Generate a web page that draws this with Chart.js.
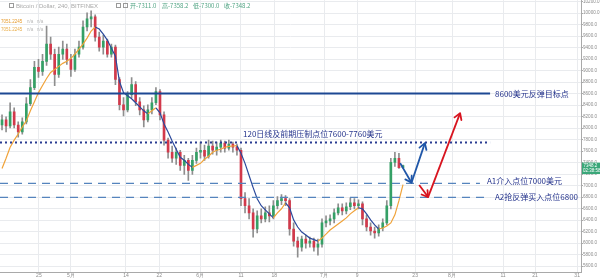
<!DOCTYPE html>
<html><head><meta charset="utf-8">
<script src="https://cdn.jsdelivr.net/npm/chart.js@4.4.1/dist/chart.umd.min.js"></script>
<style>html,body{margin:0;padding:0;background:#fff;overflow:hidden}canvas{display:block}</style>
</head><body>
<canvas id="c" width="600" height="278" style="width:600px;height:278px"></canvas>
<script>
// ---- data ----
const xTickIndex = [9.1, 17, 30.6, 38.8, 48.9, 59, 67.2, 79.5, 87.7, 102, 111.1, 123.7, 131.6, 142];
const xTickLabels = ['25','5月','14','22','6月','11','18','7月','9','23','8月','11','21','31'];
const yTickValues = [5600,5800,6000,6200,6400,6600,6800,7000,7200,7400,7600,7800,8000,8200,8400,8600,8800,9000,9200,9400,9600,9800,10000,10200];

const opens = [8055,8143,8037,8284,8055,7932,8108,8424,8705,9057,
  8987,9163,9461,9286,8934,9286,9374,9198,9022,9286,
  9409,9760,9901,9936,9584,9409,9514,9286,9409,8846,
  8407,8319,8582,8758,8459,8319,8143,8319,8442,8635,
  8231,7791,7580,7475,7580,7352,7440,7264,7440,7580,
  7615,7510,7686,7615,7668,7739,7651,7721,7668,7615,
  6772,6649,6526,6244,6473,6420,6526,6473,6649,6737,
  6772,6737,6244,6033,5928,6069,5998,6033,5928,5981,
  6350,6385,6420,6526,6614,6561,6631,6702,6649,6684,
  6420,6279,6209,6174,6262,6350,6649,7405,7475,7311];
const highs = [8231,8196,8442,8354,8108,8178,8530,8846,9163,9198,
  9286,9778,9584,9374,9409,9514,9461,9286,9374,9514,
  9866,10006,10042,9971,9672,9620,9549,9461,9444,8881,
  8530,8635,8881,8811,8530,8389,8407,8530,8705,8670,
  8284,7826,7686,7651,7615,7528,7475,7528,7651,7756,
  7703,7791,7774,7756,7791,7774,7791,7756,7721,7651,
  6877,6772,6596,6561,6596,6631,6649,6737,6807,6842,
  6824,6772,6350,6104,6121,6139,6104,6086,6069,6420,
  6473,6490,6596,6684,6684,6702,6789,6772,6754,6719,
  6490,6350,6279,6315,6420,6737,7475,7580,7563,7358.2];
const lows = [7967,7932,8002,8002,7844,7897,8073,8389,8670,8881,
  8916,9092,9198,8741,8881,9198,9110,8899,8987,9233,
  9374,9690,9760,9514,9338,9286,9233,9233,8758,8319,
  8213,8284,8530,8389,8231,8020,8108,8248,8407,8143,
  7703,7475,7405,7369,7264,7194,7088,7194,7387,7475,
  7440,7475,7545,7528,7580,7580,7615,7580,7528,6649,
  6526,6420,6104,6174,6350,6367,6367,6420,6596,6666,
  6649,6139,5946,5752,5858,5911,5928,5858,5787,5928,
  6279,6315,6350,6490,6490,6508,6579,6596,6596,6315,
  6209,6139,6086,6121,6209,6315,6596,7334,7299,7300];
const closes = [8143,8037,8284,8055,7932,8108,8424,8705,9057,8987,
  9163,9461,9286,8934,9286,9374,9198,9022,9286,9409,
  9760,9901,9936,9584,9409,9514,9286,9409,8846,8407,
  8319,8582,8758,8459,8319,8143,8319,8442,8635,8231,
  7791,7580,7475,7580,7352,7440,7264,7440,7580,7615,
  7510,7686,7615,7668,7739,7651,7721,7668,7615,6772,
  6649,6526,6244,6473,6420,6526,6473,6649,6737,6772,
  6737,6244,6033,5928,6069,5998,6033,5928,5981,6350,
  6385,6420,6526,6614,6561,6631,6702,6649,6684,6420,
  6279,6209,6174,6262,6350,6649,7405,7475,7311,7348.2];
const maValues = [7299,7475,7668,7791,7897,8020,8125,8301,8459,8618,
  8741,8864,8969,9022,9075,9127,9163,9215,9286,9374,
  9461,9567,9690,9760,9725,9637,9532,9391,9250,8811,
  8618,8565,8512,8442,8371,8301,8248,8301,8354,8266,
  8073,7932,7774,7633,7492,7440,7369,7317,7352,7387,
  7457,7510,7580,7615,7633,7668,7682,7689,7696,7563,
  7387,7176,6965,6772,6649,6578,6508,6438,6526,6596,
  6701,6614,6403,6279,6191,6139,6086,6060,6033,6086,
  6156,6227,6279,6332,6385,6438,6508,6561,6614,6596,
  6508,6403,6315,6244,6262,6297,6350,6490,6737,7018];

const targetLevel = 8603;   // 8600 target
const resistLevel = 7751;   // 7600-7760 zone
const a1Level = 7038;       // A1 7000
const a2Level = 6795;       // A2 6800
const blueDown = [[98.3, 7391], [101.1, 7050]];
const blueUp   = [[101.1, 7050], [104.4, 7739]];
const redDown  = [[103.0, 7009], [105.2, 6800]];
const redUp    = [[105.2, 6800], [113.1, 8261]];

const titleText = 'Bitcoin / Dollar, 240, BITFINEX';
const ohlcTexts = ['开-7311.0', '高-7358.2', '低-7300.0', '收-7348.2'];
const legendValue = '7051.2245';
const countdown = '02:38:58';
const targetText = '8600美元反弹目标点';
const resistText = '120日线及前期压制点位7600-7760美元';
const a1Text = 'A1介入点位7000美元';
const a2Text = 'A2抢反弹买入点位6800';

// ---- styling ----
const UP = '#35a066', DOWN = '#d2394b', WICK = '#8e8e8e';
const MA_UP = '#f0a33a', MA_DOWN = '#2c4a9c';
const CJK = '"Noto Sans CJK SC", sans-serif';
const LAT = '"Liberation Sans", Arial, sans-serif';

const pts = arr => arr.map(p => ({x: p[0], y: p[1]}));
const lastIdx = closes.length - 1;

const annot = {
  id: 'annot',
  afterDatasetsDraw(chart) {
    const ctx = chart.ctx;
    chart.data.datasets.forEach((ds, di) => {
      if (!ds.arrowHead) return;
      const el = chart.getDatasetMeta(di).data;
      const p0 = el[el.length - 2], p1 = el[el.length - 1];
      const a = Math.atan2(p1.y - p0.y, p1.x - p0.x);
      const L = 7, w = 0.55;
      ctx.save();
      ctx.strokeStyle = ds.borderColor; ctx.lineWidth = 1.8;
      ctx.lineCap = 'round'; ctx.lineJoin = 'round';
      ctx.beginPath();
      ctx.moveTo(p1.x - L * Math.cos(a - w), p1.y - L * Math.sin(a - w));
      ctx.lineTo(p1.x, p1.y);
      ctx.lineTo(p1.x - L * Math.cos(a + w), p1.y - L * Math.sin(a + w));
      ctx.stroke();
      ctx.restore();
    });
    const y = chart.scales.y;
    ctx.save();
    ctx.textBaseline = 'middle';
    ctx.fillStyle = '#24338c';
    ctx.font = '8px ' + CJK;
    ctx.fillText(targetText, 495, y.getPixelForValue(targetLevel));
    ctx.fillText(resistText, 243, y.getPixelForValue(resistLevel) - 8);
    ctx.fillText(a1Text, 487, y.getPixelForValue(a1Level) - 2);
    ctx.fillText(a2Text, 495, y.getPixelForValue(a2Level));
    ctx.restore();
  },
  afterDraw(chart) {
    const ctx = chart.ctx, y = chart.scales.y;
    ctx.save();
    ctx.textBaseline = 'middle';
    // header
    ctx.strokeStyle = '#9a9a9a'; ctx.lineWidth = 1;
    ctx.strokeRect(9.5, 3.5, 4, 4);
    ctx.strokeRect(116.5, 3.5, 4, 4);
    ctx.strokeRect(123.5, 3.5, 4, 4);
    ctx.font = '6px ' + LAT; ctx.fillStyle = '#a9a9a9';
    ctx.fillText(titleText, 16, 6);
    ctx.font = '6px ' + CJK; ctx.fillStyle = '#4fa382';
    const ox = [130, 162, 193, 224];
    ohlcTexts.forEach((t, i) => ctx.fillText(t, ox[i], 6));
    // legend
    ctx.font = '4.5px ' + LAT;
    ctx.fillStyle = '#e69b2e'; ctx.fillText(legendValue, 1, 22);
    ctx.fillStyle = '#e9ad4a'; ctx.fillText(legendValue, 1, 29.5);
    ctx.fillStyle = '#b8b8b8'; ctx.fillText('n/a   n/a', 27, 22); ctx.fillText('n/a   n/a', 27, 29.5);
    // last price box
    const py = y.getPixelForValue(closes[lastIdx]);
    ctx.fillStyle = '#3aa779';
    ctx.fillRect(582, py - 3, 18, 11.5);
    ctx.fillStyle = '#ffffff'; ctx.font = '4.5px ' + LAT;
    ctx.fillText(closes[lastIdx].toFixed(1), 583.5, py + 0.3);
    ctx.fillText(countdown, 583, py + 5.6);
    ctx.restore();
  }
};

new Chart(document.getElementById('c'), {
  type: 'bar',
  data: {
    datasets: [
      { type: 'line', data: pts(blueDown), borderColor: '#1f56a8', borderWidth: 1.8, pointRadius: 0, arrowHead: true, order: 0 },
      { type: 'line', data: pts(blueUp), borderColor: '#1f56a8', borderWidth: 1.8, pointRadius: 0, arrowHead: true, order: 0 },
      { type: 'line', data: pts(redDown), borderColor: '#d8141f', borderWidth: 1.8, pointRadius: 0, arrowHead: true, order: 0 },
      { type: 'line', data: pts(redUp), borderColor: '#d8141f', borderWidth: 1.8, pointRadius: 0, arrowHead: true, order: 0 },
      { type: 'line', data: [{x: -0.5, y: targetLevel}, {x: 120.5, y: targetLevel}], borderColor: '#1d4893', borderWidth: 2, pointRadius: 0, order: 1 },
      { type: 'line', data: [{x: -0.5, y: resistLevel}, {x: 120.5, y: resistLevel}], borderColor: '#2a3c92', borderWidth: 2, borderDash: [2, 3], pointRadius: 0, order: 1 },
      { type: 'line', data: [{x: -0.5, y: a1Level}, {x: 118, y: a1Level}], borderColor: '#5584bd', borderWidth: 1.4, borderDash: [8, 6], pointRadius: 0, order: 1 },
      { type: 'line', data: [{x: -0.5, y: a2Level}, {x: 120.5, y: a2Level}], borderColor: '#5584bd', borderWidth: 1.4, borderDash: [8, 6], pointRadius: 0, order: 1 },
      { type: 'line', data: maValues.map((v, i) => ({x: i, y: v})), borderWidth: 1.2, pointRadius: 0, order: 2,
        borderColor: MA_DOWN,
        segment: { borderColor: c => c.p1.parsed.y >= c.p0.parsed.y ? MA_UP : MA_DOWN } },
      { type: 'bar', data: closes.map((c, i) => ({x: i, y: [opens[i], c]})), grouped: false, barThickness: 2,
        backgroundColor: closes.map((c, i) => c >= opens[i] ? UP : DOWN), order: 3 },
      { type: 'bar', data: closes.map((c, i) => ({x: i, y: [lows[i], highs[i]]})), grouped: false, barThickness: 1,
        backgroundColor: WICK, order: 4 }
    ]
  },
  options: {
    responsive: false, animation: false, devicePixelRatio: 1, events: [],
    layout: { padding: 0 },
    plugins: { legend: { display: false }, tooltip: { enabled: false } },
    scales: {
      x: {
        type: 'linear', min: -0.5, max: 142.95, offset: false, bounds: 'data',
        afterBuildTicks: s => { s.ticks = xTickIndex.map(v => ({value: v})); },
        afterFit: s => { s.height = 6; },
        ticks: { autoSkip: false, maxRotation: 0, minRotation: 0, padding: 1, color: '#8c8c8c',
          font: { size: 5, family: LAT, lineHeight: 1 },
          callback: (v, i) => xTickLabels[i] },
        grid: { color: '#e9ebee', offset: false, drawTicks: false },
        border: { color: '#a9a9a9', width: 1 }
      },
      y: {
        position: 'right', min: 5496, max: 10226, bounds: 'data',
        afterBuildTicks: s => { s.ticks = yTickValues.map(v => ({value: v})); },
        afterFit: s => { s.width = 19; },
        ticks: { padding: 0, color: '#8c8c8c', autoSkip: false,
          font: { size: 4.6, family: LAT, lineHeight: 0.1 },
          callback: v => Number(v).toFixed(1) },
        grid: { color: '#e9ebee', drawTicks: true, tickLength: 2, tickColor: '#a9a9a9' },
        border: { color: '#a9a9a9', width: 1 }
      }
    }
  },
  plugins: [annot]
});
</script>
</body></html>
